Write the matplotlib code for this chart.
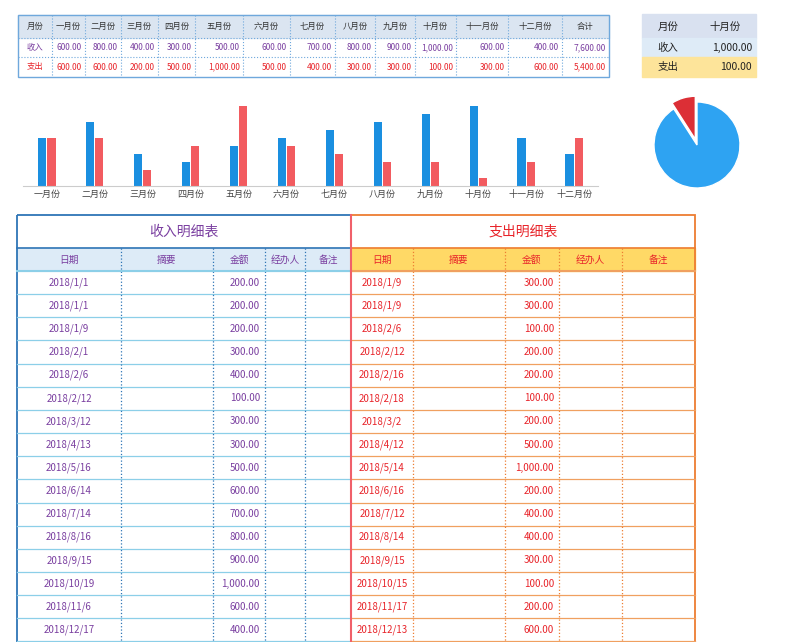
import matplotlib
matplotlib.use("Agg")
import matplotlib.pyplot as plt
from matplotlib.patches import Rectangle

plt.rcParams['font.family'] = ['Noto Sans CJK SC', 'DejaVu Sans']

months = ["一月份","二月份","三月份","四月份","五月份","六月份","七月份","八月份","九月份","十月份","十一月份","十二月份"]
income = [600, 800, 400, 300, 500, 600, 700, 800, 900, 1000, 600, 400]
expense = [600, 600, 200, 500, 1000, 500, 400, 300, 300, 100, 300, 600]
sel_month = "十月份"
sel_income = 1000
sel_expense = 100

inc_dates = ["2018/1/1","2018/1/1","2018/1/9","2018/2/1","2018/2/6","2018/2/12","2018/3/12","2018/4/13","2018/5/16","2018/6/14","2018/7/14","2018/8/16","2018/9/15","2018/10/19","2018/11/6","2018/12/17"]
inc_amts = [200,200,200,300,400,100,300,300,500,600,700,800,900,1000,600,400]
exp_dates = ["2018/1/9","2018/1/9","2018/2/6","2018/2/12","2018/2/16","2018/2/18","2018/3/2","2018/4/12","2018/5/14","2018/6/16","2018/7/12","2018/8/14","2018/9/15","2018/10/15","2018/11/17","2018/12/13"]
exp_amts = [300,300,100,200,200,100,200,500,1000,200,400,400,300,100,200,600]
detail_headers = ["日期","摘要","金额","经办人","备注"]

def fmt(v):
    return f"{v:,.2f}"

PURPLE = "#7a3fa0"
RED = "#e8242a"
BLUE_B = "#1a8fe0"
RED_B = "#f25b60"

fig = plt.figure(figsize=(8, 6.42), dpi=100)
ax = fig.add_axes([0, 0, 1, 1])
ax.set_xlim(0, 800); ax.set_ylim(642, 0); ax.axis('off')

def cell_grid(xs, ys, color, ls=':', lw=0.8):
    for x in xs[1:-1]:
        ax.plot([x, x], [ys[0], ys[-1]], color=color, ls=ls, lw=lw)
    for y in ys[1:-1]:
        ax.plot([xs[0], xs[-1]], [y, y], color=color, ls=ls, lw=lw)
    ax.add_patch(Rectangle((xs[0], ys[0]), xs[-1]-xs[0], ys[-1]-ys[0], fill=False, ec=color, lw=1))

xs = [18, 52, 85, 121, 158, 195, 243, 290, 335, 375, 415, 456, 508, 562, 609]
ys = [15, 38, 57, 77]
ax.add_patch(Rectangle((xs[0], ys[0]), xs[-1]-xs[0], ys[1]-ys[0], color="#dbe5f1"))
cell_grid(xs, ys, "#6fa8dc")
heads = ["月份"] + months + ["合计"]
for i, h in enumerate(heads):
    ax.text((xs[i]+xs[i+1])/2, 26.5, h, ha='center', va='center', fontsize=6, color="#333333")
ax.text((xs[0]+xs[1])/2, 47.5, "收入", ha='center', va='center', fontsize=6, color=PURPLE)
ax.text((xs[0]+xs[1])/2, 67, "支出", ha='center', va='center', fontsize=6, color=RED)
for i in range(12):
    ax.text(xs[i+2]-3, 47.5, fmt(income[i]), ha='right', va='center', fontsize=6, color=PURPLE)
    ax.text(xs[i+2]-3, 67, fmt(expense[i]), ha='right', va='center', fontsize=6, color=RED)
ax.text(xs[-1]-3, 47.5, fmt(sum(income)), ha='right', va='center', fontsize=6, color=PURPLE)
ax.text(xs[-1]-3, 67, fmt(sum(expense)), ha='right', va='center', fontsize=6, color=RED)

ax.add_patch(Rectangle((642, 14), 114, 24, color="#d9e1f0"))
ax.add_patch(Rectangle((642, 38), 114, 19, color="#deebf7"))
ax.add_patch(Rectangle((642, 57), 114, 20, color="#fde49a"))
ax.text(668, 27, "月份", ha='center', va='center', fontsize=7.5, color="#222")
ax.text(725, 27, sel_month, ha='center', va='center', fontsize=7.5, color="#222")
ax.text(668, 47.5, "收入", ha='center', va='center', fontsize=7.5, color="#222")
ax.text(752, 47.5, fmt(sel_income), ha='right', va='center', fontsize=7.5, color="#222")
ax.text(668, 67, "支出", ha='center', va='center', fontsize=7.5, color="#222")
ax.text(752, 67, fmt(sel_expense), ha='right', va='center', fontsize=7.5, color="#222")

row_ys = [271 + 23.15*i for i in range(17)]
def detail(xs, title, hbg, border, rowline, tcolor, dates, amts):
    ax.add_patch(Rectangle((xs[0], 248), xs[-1]-xs[0], 23, color=hbg))
    for y in row_ys[1:]:
        ax.plot([xs[0], xs[-1]], [y, y], color=rowline, lw=0.9)
    for x in xs[1:-1]:
        ax.plot([x, x], [248, 642], color=border, ls=':', lw=0.9)
    ax.plot([xs[0], xs[-1]], [248, 248], color=border, lw=1.2)
    ax.plot([xs[0], xs[-1]], [271, 271], color=rowline, lw=1.5)
    ax.add_patch(Rectangle((xs[0], 215), xs[-1]-xs[0], 440, fill=False, ec=border, lw=1.3))
    ax.text((xs[0]+xs[-1])/2, 231.5, title, ha='center', va='center', fontsize=10, color=tcolor)
    for i, h in enumerate(detail_headers):
        ax.text((xs[i]+xs[i+1])/2, 259.5, h, ha='center', va='center', fontsize=7, color=tcolor)
    for r, (d, a) in enumerate(zip(dates, amts)):
        yc = row_ys[r] + 11.6
        ax.text((xs[0]+xs[1])/2, yc, d, ha='center', va='center', fontsize=7, color=tcolor)
        ax.text(xs[3]-5, yc, fmt(a), ha='right', va='center', fontsize=7, color=tcolor)

detail([17, 121, 213, 265, 305, 351], "收入明细表", "#ddebf7", "#2e75b6", "#8ccfe8", PURPLE, inc_dates, inc_amts)
detail([351, 413, 505, 559, 622, 695], "支出明细表", "#ffd966", "#ed7d31", "#f0a060", RED, exp_dates, exp_amts)
ax.plot([351, 351], [215, 642], color="#f0606a", lw=1.5)

bx = fig.add_axes([23/800, 1-186/642, 575/800, 90/642])
idx = list(range(12))
w = 0.17
bx.bar([i - w/2 - 0.01 for i in idx], income, width=w, color=BLUE_B)
bx.bar([i + w/2 + 0.01 for i in idx], expense, width=w, color=RED_B)
bx.set_xlim(-0.5, 11.5); bx.set_ylim(0, 1000*90/80)
bx.set_xticks(idx); bx.set_xticklabels(months, fontsize=6.5, color="#444")
bx.tick_params(length=0, pad=3)
bx.set_yticks([])
for s in ['top', 'right', 'left']:
    bx.spines[s].set_visible(False)
bx.spines['bottom'].set_color("#cccccc")
bx.patch.set_alpha(0)

px = fig.add_axes([(697-50)/800, 1-(145+50)/642, 100/800, 100/642])
px.pie([sel_expense, sel_income], colors=["#dc2f36", "#2ea3f2"], startangle=90,
       counterclock=True, explode=[0.12, 0], radius=0.86,
       wedgeprops=dict(edgecolor='white', linewidth=1))
px.set_aspect('equal')
px.set_xlim(-1, 1); px.set_ylim(-1, 1)

fig.savefig("out.png", dpi=100)
